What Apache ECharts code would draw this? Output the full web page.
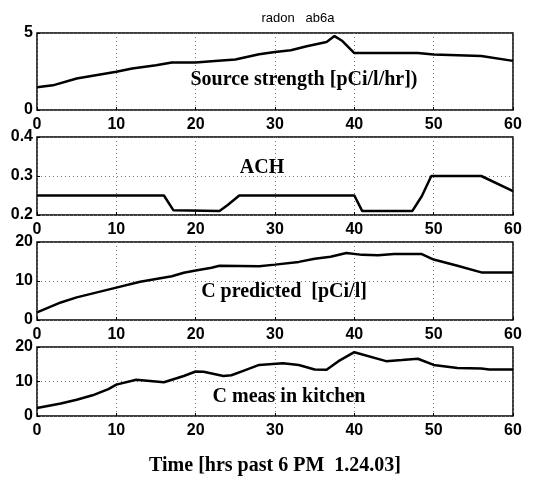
<!DOCTYPE html>
<html>
<head>
<meta charset="utf-8">
<script src="https://cdn.jsdelivr.net/npm/echarts@6/dist/echarts.min.js"></script>
<style>
  html, body { margin: 0; padding: 0; background: #fff; }
  #chart { width: 549px; height: 477px; }
</style>
</head>
<body>
<div id="chart"></div>
<script>
// hours past 6 PM
const sourceX = [0, 2, 5, 10, 12, 15, 17, 20, 22, 25, 28, 30, 32, 34, 36.5, 37.5, 38.5, 40, 48, 50, 56, 60]
const sourceY = [1.47, 1.6, 2.05, 2.48, 2.7, 2.9, 3.08, 3.08, 3.17, 3.28, 3.62, 3.77, 3.88, 4.14, 4.42, 4.8, 4.48, 3.7, 3.7, 3.6, 3.5, 3.19]

const achX = [0, 16, 17.2, 23, 24, 25.5, 40, 41, 47.3, 48.5, 49.7, 56, 60]
const achY = [0.25, 0.25, 0.212, 0.21, 0.225, 0.25, 0.25, 0.21, 0.21, 0.248, 0.3, 0.3, 0.261]

const predX = [0, 3, 5, 10, 13, 15, 17, 18.5, 20, 22, 23, 28, 30, 33, 35, 37, 39, 41, 43, 45, 48.5, 50, 53, 56, 60]
const predY = [1.96, 4.5, 5.8, 8.3, 9.8, 10.5, 11.2, 12.1, 12.7, 13.4, 13.9, 13.8, 14.2, 14.9, 15.7, 16.2, 17.2, 16.7, 16.6, 16.9, 16.9, 15.5, 13.9, 12.2, 12.2]

const measX = [0, 3, 5, 7, 9, 10, 12.5, 16, 18.5, 20, 21, 23.5, 24.5, 26, 28, 31, 33, 35, 36.5, 38, 40, 44, 46, 48, 50, 53, 56, 57, 60]
const measY = [2.3, 3.6, 4.7, 6.0, 7.8, 9.1, 10.5, 9.8, 11.6, 12.9, 12.8, 11.6, 11.8, 13.1, 14.8, 15.3, 14.8, 13.5, 13.4, 15.9, 18.5, 15.9, 16.2, 16.6, 14.8, 13.9, 13.8, 13.5, 13.5]

const xTicks = [0, 10, 20, 30, 40, 50, 60]
const panelNames = ['Source strength [pCi/l/hr])', 'ACH', 'C predicted  [pCi/l]', 'C meas in kitchen']
const panelLimits = [[0, 5, 5], [0.2, 0.4, 0.1], [0, 20, 10], [0, 20, 10]]

const pair = (xs, ys) => xs.map((x, i) => [x, ys[i]])
const panelData = [pair(sourceX, sourceY), pair(achX, achY), pair(predX, predY), pair(measX, measY)]

const tops = [33, 137, 242, 347]
const heights = [77, 78, 78, 77]
const labelPos = [[304, 80], [262, 168], [284, 292], [289, 397]]

const Chart = echarts.init(document.getElementById('chart'))

const gridLine = { show: true, lineStyle: { color: '#777', type: [1, 3], width: 1 } }
const tickFont = { color: '#000', fontFamily: 'Liberation Sans, Arial', fontWeight: 'bold', fontSize: 16 }
const serifFont = { fontFamily: 'Liberation Serif, Times New Roman', fontWeight: 'bold', fontSize: 20 }

const option = {
  animation: false,
  title: {
    text: 'radon   ab6a',
    left: 293,
    top: 7,
    textAlign: 'center',
    textStyle: { fontFamily: 'Liberation Sans, Arial', fontWeight: 'normal', fontSize: 13, color: '#000' }
  },
  grid: tops.map((t, i) => ({
    left: 37, width: 476, top: t, height: heights[i],
    show: true, borderColor: '#000', borderWidth: 1.5, backgroundColor: 'transparent'
  })),
  xAxis: tops.map((t, i) => ({
    type: 'value', gridIndex: i, min: 0, max: 60, interval: 10,
    axisLine: { show: false },
    axisTick: { show: true, inside: true, length: 3, lineStyle: { color: '#000' } },
    axisLabel: Object.assign({ margin: 7, showMinLabel: true, showMaxLabel: true }, tickFont),
    splitLine: gridLine,
    name: i === 3 ? 'Time [hrs past 6 PM  1.24.03]' : '',
    nameLocation: 'middle',
    nameGap: 40,
    nameTextStyle: Object.assign({ color: '#000' }, serifFont)
  })),
  yAxis: panelLimits.map((lim, i) => ({
    type: 'value', gridIndex: i, min: lim[0], max: lim[1], interval: lim[2],
    axisLine: { show: false },
    axisTick: { show: true, inside: true, length: 3, lineStyle: { color: '#000' } },
    axisLabel: Object.assign({ margin: 4, showMinLabel: true, showMaxLabel: true }, tickFont),
    splitLine: gridLine
  })),
  graphic: panelNames.map((name, i) => ({
    type: 'text',
    x: labelPos[i][0],
    y: labelPos[i][1],
    z: 100,
    style: Object.assign({
      text: name,
      align: 'center',
      verticalAlign: 'middle',
      fill: '#000'
    }, serifFont)
  })),
  series: panelData.map((d, i) => ({
    type: 'line', xAxisIndex: i, yAxisIndex: i, data: d,
    showSymbol: false, symbol: 'none',
    lineStyle: { color: '#000', width: 2.5 }
  }))
}
option && Chart.setOption(option)
</script>
</body>
</html>
